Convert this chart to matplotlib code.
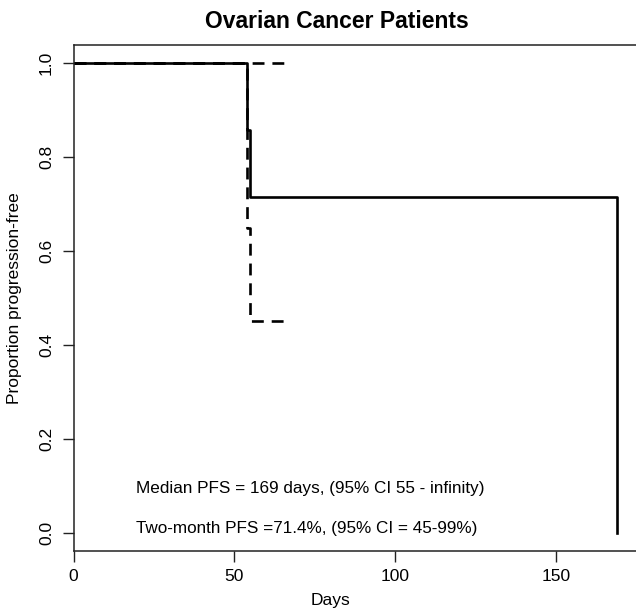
import matplotlib
matplotlib.use("Agg")
import matplotlib.pyplot as plt

# Kaplan-Meier estimate and 95% CI
km_days = [0, 54, 55, 169, 169]
km_surv = [1.0, 0.857, 0.714, 0.714, 0.0]

upper_days = [0, 67]
upper_surv = [1.0, 1.0]

lower_days = [0, 54, 55, 67]
lower_surv = [1.0, 0.65, 0.45, 0.45]

x_ticks = [0, 50, 100, 150]
y_ticks = [0.0, 0.2, 0.4, 0.6, 0.8, 1.0]

title = "Ovarian Cancer Patients"
note_median = "Median PFS = 169 days, (95% CI 55 - infinity)"
note_twomonth = "Two-month PFS =71.4%, (95% CI = 45-99%)"

plt.rcParams['font.family'] = ['Liberation Sans', 'DejaVu Sans']

W, H = 636, 611
fig = plt.figure(figsize=(W / 100, H / 100), dpi=100)
ax = fig.add_axes([73.5 / W, 60 / H, 566 / W, 506 / H])

ax.step(km_days, km_surv, where="post", color="black", lw=1.9)
ax.step(upper_days, upper_surv, where="post", color="black", lw=1.9,
        linestyle=(0, (4.5, 3)))
ax.step(lower_days, lower_surv, where="post", color="black", lw=1.9,
        linestyle=(0, (4.5, 3)))

ax.set_xlim(0, 176)
ax.set_ylim(-0.0383, 1.0383)
ax.set_xticks(x_ticks)
ax.set_xticklabels([str(t) for t in x_ticks])
ax.set_yticks(y_ticks)
ax.set_yticklabels([f"{t:.1f}" for t in y_ticks], rotation=90, va="center")

for s in ax.spines.values():
    s.set_linewidth(1.1)
    s.set_color("#222222")
ax.tick_params(direction="out", length=8, width=1.0, color="#222222",
               labelsize=12.5, pad=5)
ax.tick_params(axis="y", pad=6)

# notes sit inside the plot, left edge near 20 days
ax.text(19.5, 0.095, note_median, fontsize=12.3, ha="left", va="center")
ax.text(19.5, 0.01, note_twomonth, fontsize=12.3, ha="left", va="center")

fig.text(337 / W, 1 - 22 / H, title, fontsize=16.5, fontweight="bold",
         ha="center", va="center")
fig.text(330 / W, 1 - 601 / H, "Days", fontsize=12.5, ha="center", va="center")
fig.text(15 / W, 1 - 298 / H, "Proportion progression-free", fontsize=12.5,
         rotation=90, ha="center", va="center")

fig.savefig("out.png", dpi=100)
